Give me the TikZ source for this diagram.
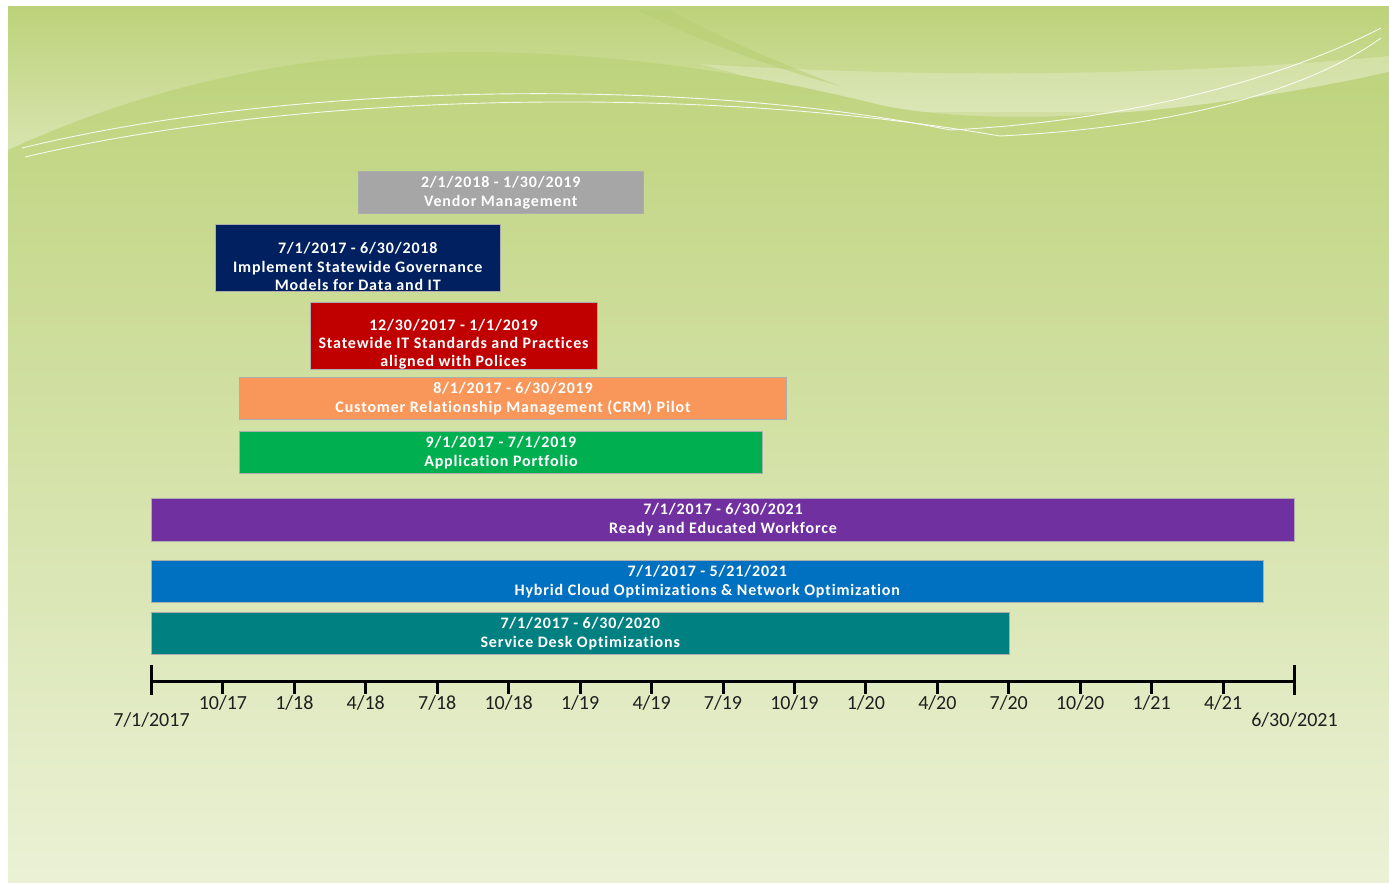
\documentclass[tikz,border=0pt]{standalone}
\usepackage{fontspec}
\setmainfont{Carlito}
\newfontfamily\barfont[LetterSpace=5.3,Ligatures=NoCommon]{Carlito}
\definecolor{bgtop}{HTML}{BDD27A}
\definecolor{bgmid}{HTML}{D8E4AF}
\definecolor{bgbot}{HTML}{EBF1D6}
\definecolor{bggreen}{HTML}{BED37C}
\definecolor{stripe}{HTML}{B8CE72}
\definecolor{cgray}{HTML}{A6A6A6}
\definecolor{cnavy}{HTML}{002060}
\definecolor{cred}{HTML}{C00000}
\definecolor{corange}{HTML}{F9975A}
\definecolor{cgreen}{HTML}{00B050}
\definecolor{cpurple}{HTML}{7030A0}
\definecolor{cblue}{HTML}{0070C0}
\definecolor{cteal}{HTML}{008080}
\begin{document}
\begin{tikzpicture}[x=1pt,y=-1pt,
  bar/.style={draw=black!32, line width=0.8pt, rectangle, inner sep=0pt,
    text=white, align=center, font=\barfont\bfseries\fontsize{16}{18.8}\selectfont},
  bartext/.style={text=white, align=center, inner sep=0pt,
    font=\barfont\bfseries\fontsize{16}{18.2}\selectfont},
  axisline/.style={line width=3pt, black},
  ticklab/.style={font=\fontsize{20}{22}\selectfont, anchor=base, inner sep=0pt, text=black!88},
  wline/.style={white, line width=0.9pt, opacity=0.85}]
\useasboundingbox (0,0) rectangle (1389,883);
\fill[white] (0,0) rectangle (1389,883);
% background panel
\shade[top color=bgtop, bottom color=bgbot] (8,7) rectangle (1389,883);
\shade[top color=bgtop, bottom color=bgmid] (8,7) rectangle (1389,150);
% light band on the right
\fill[white, opacity=0.22] (700,64) .. controls (950,80) and (1200,74) .. (1389,56)
  -- (1389,112) -- (880,112) -- cycle;
% darker diagonal stripe
\fill[stripe, opacity=0.55] (640,11) .. controls (700,42) and (780,70) .. (840,86)
  .. controls (770,60) and (705,30) .. (672,11) -- cycle;
% dark lower region
\shade[top color=bggreen, bottom color=bgbot]
  (8,150) .. controls (150,85) and (300,52) .. (470,52)
  .. controls (620,52) and (760,75) .. (880,105)
  .. controls (990,128) and (1180,118) .. (1389,72)
  -- (1389,883) -- (8,883) -- cycle;
% white lines
\draw[wline] (22,148) .. controls (300,80) and (700,78) .. (950,130)
  .. controls (1150,120) and (1300,70) .. (1381,28);
\draw[wline] (25,157) .. controls (300,92) and (700,84) .. (1000,136)
  .. controls (1200,126) and (1320,82) .. (1381,38);

% bars
\node[bar, fill=cgray, minimum width=285.5pt, minimum height=42.5pt] (vm) at (500.75,192.5)
  {2/1/2018 - 1/30/2019\\Vendor Management};
\node[bar, fill=cnavy, minimum width=285.5pt, minimum height=67.5pt] (gov) at (357.75,257.75) {};
\node[bartext] (govt) at (357.75,266.5) {7/1/2017 - 6/30/2018\\Implement Statewide Governance\\Models for Data and IT};
\node[bar, fill=cred, minimum width=287pt, minimum height=67pt] (std) at (453.5,335.5) {};
\node[bartext] (stdt) at (453.5,344.5) {12/30/2017 - 1/1/2019\\Statewide IT Standards and Practices\\aligned with Polices};
\node[bar, fill=corange, minimum width=547pt, minimum height=42.5pt] (crm) at (513,398.5)
  {8/1/2017 - 6/30/2019\\Customer Relationship Management (CRM) Pilot};
\node[bar, fill=cgreen, minimum width=523pt, minimum height=42.5pt] (app) at (501,452.5)
  {9/1/2017 - 7/1/2019\\Application Portfolio};
\node[bar, fill=cpurple, minimum width=1143pt, minimum height=42.5pt] (wf) at (723,520)
  {7/1/2017 - 6/30/2021\\Ready and Educated Workforce};
\node[bar, fill=cblue, minimum width=1111.5pt, minimum height=42.5pt] (hc) at (707.25,581.5)
  {7/1/2017 - 5/21/2021\\Hybrid Cloud Optimizations \& Network Optimization};
\node[bar, fill=cteal, minimum width=857.5pt, minimum height=42.5pt] (sd) at (580.25,633.5)
  {7/1/2017 - 6/30/2020\\Service Desk Optimizations};

% axis
\coordinate (a0) at (151.5,681);
\coordinate (a16) at (1294.5,681);
\draw[axisline] (a0) -- (a16);
\draw[axisline] (151.5,665) -- (151.5,695);
\draw[axisline] (1294.5,665) -- (1294.5,695);
\foreach \i/\lab in {1/10\slash17,2/1\slash18,3/4\slash18,4/7\slash18,5/10\slash18,6/1\slash19,7/4\slash19,8/7\slash19,9/10\slash19,10/1\slash20,11/4\slash20,12/7\slash20,13/10\slash20,14/1\slash21,15/4\slash21}{
  \pgfmathsetmacro{\xx}{151.5+\i*71.4375}
  \draw[axisline] (\xx,681) -- (\xx,693.5);
  \node[ticklab] (t\i) at (\xx,709.5) {\lab};
}
\node[ticklab] (tstart) at (151.5,726.5) {7/1/2017};
\node[ticklab] (tend) at (1294.5,726.5) {6/30/2021};
\end{tikzpicture}
\end{document}
